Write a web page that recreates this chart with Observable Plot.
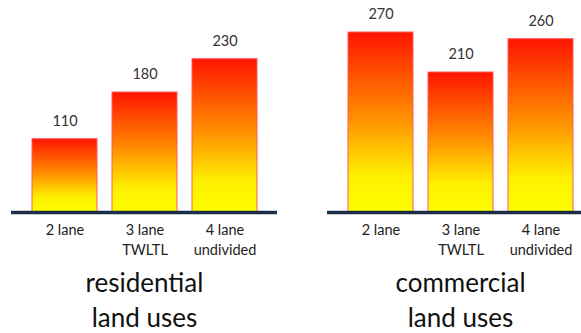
<!DOCTYPE html>
<html><head><meta charset="utf-8">
<script src="https://cdn.jsdelivr.net/npm/d3@7"></script>
<script src="https://cdn.jsdelivr.net/npm/@observablehq/plot@0.6"></script>
<style>
html,body{margin:0;padding:0;background:#fff;overflow:hidden;}
#chart{width:581px;height:333px;overflow:hidden;}
#chart svg{max-width:none !important;width:594px !important;height:333px !important;display:block;}
</style></head><body><div id="chart"></div>
<script>
const panels = ["residential\nland uses", "commercial\nland uses"];
const categories = ["2 lane", "3 lane\nTWLTL", "4 lane\nundivided"];
const residential = [110, 180, 230];
const commercial = [270, 210, 260];

const data = [
  ...categories.map((c, i) => ({panel: panels[0], cat: c, value: residential[i]})),
  ...categories.map((c, i) => ({panel: panels[1], cat: c, value: commercial[i]}))
];

const font = "Lato, 'Open Sans', sans-serif";
const chart = Plot.plot({
  width: 594, height: 333,
  marginLeft: 10, marginRight: 0, marginTop: 12, marginBottom: 121,
  facet: {marginTop: 0, marginBottom: 0, marginLeft: 0, marginRight: 0},
  style: {fontFamily: font, background: "transparent", color: "#222", overflow: "visible"},
  fx: {domain: panels, paddingInner: 0.1577, paddingOuter: 0, label: null},
  x: {domain: categories, paddingInner: 0.1925, paddingOuter: 0.2547, label: null},
  y: {domain: [0, 300], axis: null},
  marks: [
    Plot.barY(data, {fx: "panel", x: "cat", y: "value", fill: "url(#barGrad)", stroke: "#ff5a5a", strokeWidth: 1}),
    Plot.ruleY([0], {stroke: "#1c2e45", strokeWidth: 3.5}),
    Plot.text(data, {fx: "panel", x: "cat", y: "value", text: d => String(d.value), dy: -18, fontSize: 14.5, fill: "#333"}),
    Plot.axisX({tickSize: 0, tickPadding: 8, fontSize: 14.5, lineHeight: 1.4, fill: "#222"}),
    Plot.axisFx({anchor: "bottom", tickSize: 0, tickPadding: 54, fontSize: 26, lineHeight: 1.36, label: null, fill: "#111"})
  ]
});
const ns = "http://www.w3.org/2000/svg";
const defs = document.createElementNS(ns, "defs");
defs.innerHTML = `<linearGradient id="barGrad" x1="0" y1="0" x2="0" y2="1">
  <stop offset="0" stop-color="#ff1400"/>
  <stop offset="0.5" stop-color="#ff9600"/>
  <stop offset="0.8" stop-color="#fff000"/>
  <stop offset="1" stop-color="#ffff00"/>
</linearGradient>`;
chart.insertBefore(defs, chart.firstChild);
document.getElementById("chart").appendChild(chart);
</script></body></html>
